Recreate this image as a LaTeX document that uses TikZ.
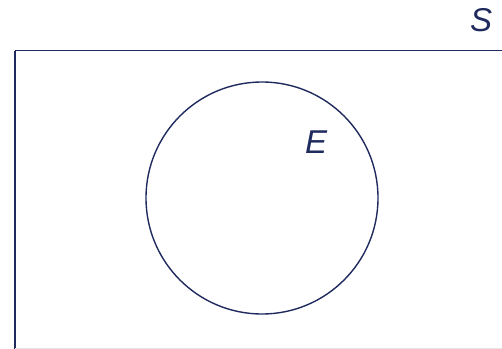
\documentclass[tikz,border=0pt]{standalone}
\usepackage{fontspec}
\setmainfont{Liberation Sans}
\definecolor{navy}{HTML}{1F2A5E}
\begin{document}
\begin{tikzpicture}[x=1pt,y=-1pt,
  outline/.style={draw=navy,line width=1.6pt},
  setlabel/.style={text=navy,font=\fontsize{33}{33}\selectfont\itshape,inner sep=0pt}]
\useasboundingbox (0,0) rectangle (502,348);
\clip (0,0) rectangle (502,348);
\draw[outline] (15,50.5) -- (520,50.5);
\draw[outline] (15,50.5) -- (15,360);
\draw[draw=black!10,line width=1pt] (15,348) -- (520,348);
\node[outline,circle,minimum size=232pt,inner sep=0pt,line width=1.4pt] (E) at (262,198) {};
\node[setlabel] (Elabel) at (316,142) {E};
\node[setlabel] (Slabel) at (481,20) {S};
\end{tikzpicture}
\end{document}
